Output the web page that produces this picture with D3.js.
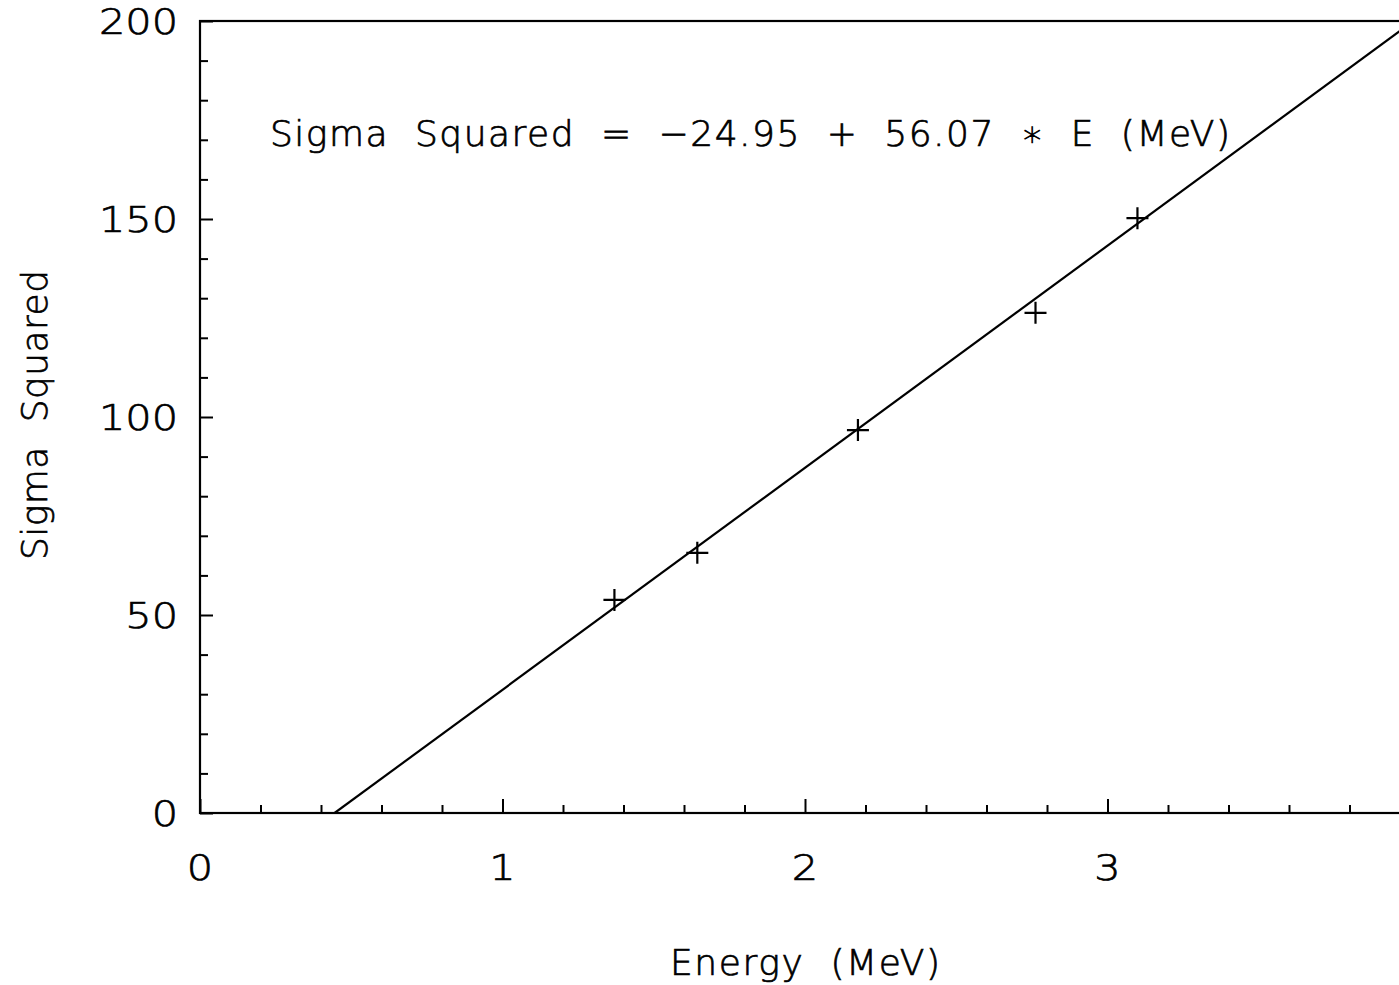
<!DOCTYPE html>
<html>
<head>
<meta charset="utf-8">
<script src="https://cdn.jsdelivr.net/npm/d3@7"></script>
<style>
  html, body { margin: 0; padding: 0; background: #fff; overflow: hidden; }
  text { font-family: "DejaVu Sans", sans-serif; font-weight: 200; fill: #000; stroke: #000; stroke-width: 0.7; }
</style>
</head>
<body>
<svg id="chart" width="1399" height="985"></svg>
<script>
// ---- data ----
const energy = [1.37, 1.644, 2.175, 2.762, 3.099];
const sigmaSquared = [53.8, 65.7, 96.7, 126.3, 150.2];
const fitEnergy = [0.445, 4.0];
const fitSigma = [0, 199.33];
const xTickLabels = ["0", "1", "2", "3"];
const yTickLabels = ["0", "50", "100", "150", "200"];
const equationText = "Sigma  Squared  =  \u221224.95  +  56.07  \u2217  E  (MeV)";
const xTitle = "Energy  (MeV)";
const yTitle = "Sigma  Squared";

// ---- layout ----
const svg = d3.select("#chart");
const mLeft = 200, mRight = 1410, mTop = 21, mBottom = 813;
const x = d3.scaleLinear().domain([0, 4]).range([mLeft, mRight]);
const y = d3.scaleLinear().domain([0, 200]).range([mBottom, mTop]);

svg.append("defs").append("clipPath").attr("id", "clip")
  .append("rect").attr("x", mLeft).attr("y", mTop).attr("width", mRight - mLeft).attr("height", mBottom - mTop);

// frame
svg.append("rect").attr("x", mLeft).attr("y", mTop).attr("width", mRight - mLeft).attr("height", mBottom - mTop)
  .attr("fill", "none").attr("stroke", "#000").attr("stroke-width", 2.2);

// x axis ticks (inward)
const xMajor = xTickLabels.map(Number);
const xMinor = d3.range(0, 4.0001, 0.2).filter(v => Math.abs(v - Math.round(v)) > 1e-6);
const xAxisMinor = d3.axisBottom(x).tickValues(xMinor).tickSize(-8).tickFormat("");
const xAxisMajor = d3.axisBottom(x).tickValues(xMajor).tickSize(-14).tickFormat("");
[xAxisMinor, xAxisMajor].forEach(ax => {
  const g = svg.append("g").attr("transform", `translate(0,${mBottom})`).call(ax);
  g.select(".domain").remove();
  g.selectAll("line").attr("stroke", "#000").attr("stroke-width", 2);
});
svg.append("g").selectAll("text").data(xTickLabels).join("text")
  .attr("transform", d => `translate(${x(+d)},880) scale(1.15,1)`)
  .attr("text-anchor", "middle")
  .attr("font-size", 36).text(d => d);

// y axis ticks (inward)
const yMajor = yTickLabels.map(Number);
const yMinor = d3.range(0, 200.001, 10).filter(v => v % 50 !== 0);
const yAxisMinor = d3.axisLeft(y).tickValues(yMinor).tickSize(-8).tickFormat("");
const yAxisMajor = d3.axisLeft(y).tickValues(yMajor).tickSize(-13).tickFormat("");
[yAxisMinor, yAxisMajor].forEach(ax => {
  const g = svg.append("g").attr("transform", `translate(${mLeft},0)`).call(ax);
  g.select(".domain").remove();
  g.selectAll("line").attr("stroke", "#000").attr("stroke-width", 2);
});
svg.append("g").selectAll("text").data(yTickLabels).join("text")
  .attr("transform", d => `translate(178,${y(+d) + 13}) scale(1.15,1)`)
  .attr("text-anchor", "end")
  .attr("font-size", 36).text(d => d);

// fit line
const line = d3.line().x(d => x(d[0])).y(d => y(d[1]));
svg.append("path").attr("clip-path", "url(#clip)")
  .datum(fitEnergy.map((e, i) => [e, fitSigma[i]]))
  .attr("d", line).attr("fill", "none").attr("stroke", "#000").attr("stroke-width", 2.2);

// markers (plus)
const pts = energy.map((e, i) => [e, sigmaSquared[i]]);
svg.append("g").selectAll("path").data(pts).join("path")
  .attr("transform", d => `translate(${x(d[0])},${y(d[1])})`)
  .attr("d", "M-11,0H11M0,-11V11")
  .attr("fill", "none").attr("stroke", "#000").attr("stroke-width", 2.2);

// equation annotation
svg.append("text").attr("x", 270).attr("y", 146)
  .attr("font-size", 36).style("white-space", "pre")
  .attr("textLength", 960).attr("lengthAdjust", "spacing")
  .text(equationText);

// axis titles
svg.append("text").attr("x", 670).attr("y", 975)
  .attr("font-size", 36).style("white-space", "pre")
  .attr("textLength", 270).attr("lengthAdjust", "spacing").text(xTitle);
svg.append("text").attr("transform", "translate(47,560) rotate(-90)")
  .attr("font-size", 36).style("white-space", "pre")
  .attr("textLength", 290).attr("lengthAdjust", "spacing").text(yTitle);
</script>
</body>
</html>
